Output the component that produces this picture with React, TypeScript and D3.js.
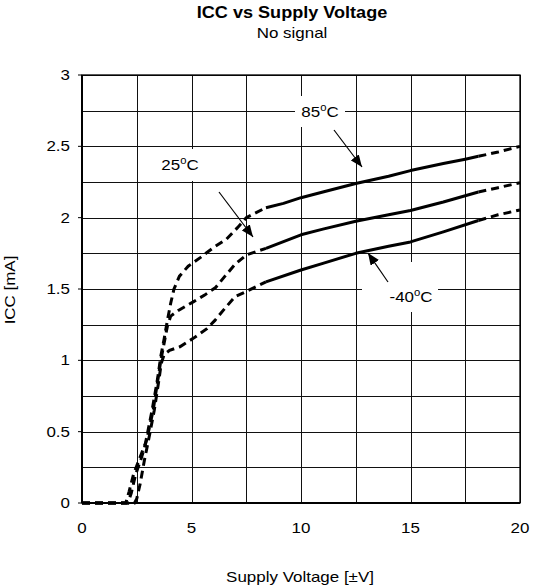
import React from "react";
import * as d3 from "d3";

const xTicks = [0, 5, 10, 15, 20];
const yTicks = [0, 0.5, 1, 1.5, 2, 2.5, 3];
const yTickLabels = ["0", "0.5", "1", "1.5", "2", "2.5", "3"];
const xGrid = [0, 2.5, 5, 7.5, 10, 12.5, 15, 17.5, 20];
const yGrid = [0, 0.25, 0.5, 0.75, 1, 1.25, 1.5, 1.75, 2, 2.25, 2.5, 2.75, 3];

const icc85: [number, number][] = [
  [0, 0], [2.0, 0], [2.15, 0.08], [2.35, 0.2], [2.6, 0.3], [2.9, 0.42], [3.2, 0.65], [3.45, 0.87],
  [3.6, 1.03], [3.75, 1.15], [3.9, 1.28], [4.05, 1.4], [4.2, 1.5], [4.45, 1.59], [4.85, 1.66],
  [5.4, 1.72], [6.0, 1.79], [6.6, 1.85], [7.1, 1.93], [7.5, 2.0], [8.4, 2.07], [9.2, 2.1],
  [10, 2.14], [11, 2.18], [12.5, 2.24], [14, 2.29], [15, 2.33], [16.5, 2.38], [17.5, 2.41],
  [18.1, 2.43], [19, 2.46], [20, 2.5],
];
const icc25: [number, number][] = [
  [0, 0], [2.1, 0], [2.25, 0.07], [2.45, 0.2], [2.7, 0.31], [2.95, 0.44], [3.25, 0.65], [3.45, 0.85],
  [3.6, 1.0], [3.75, 1.12], [3.9, 1.24], [4.05, 1.31], [4.4, 1.35], [5.08, 1.41], [5.62, 1.46],
  [6.1, 1.51], [6.53, 1.59], [7.0, 1.675], [7.52, 1.74], [8.4, 1.785], [10, 1.88], [11, 1.92],
  [12.5, 1.975], [14, 2.02], [15, 2.05], [16.5, 2.11], [18.1, 2.18], [19, 2.21], [20, 2.245],
];
const iccM40: [number, number][] = [
  [0, 0], [2.4, 0], [2.5, 0.03], [2.65, 0.13], [2.85, 0.3], [3.05, 0.45], [3.3, 0.65], [3.5, 0.85],
  [3.62, 0.98], [3.75, 1.04], [4.0, 1.07], [4.47, 1.095], [5.08, 1.154], [5.69, 1.22], [6.07, 1.28],
  [6.53, 1.365], [6.99, 1.446], [7.6, 1.49], [8.4, 1.55], [10, 1.633], [11, 1.68], [12.5, 1.75],
  [14, 1.8], [15, 1.83], [16.5, 1.9], [18.1, 1.98], [19, 2.02], [20, 2.054],
];
const series = [icc85, icc25, iccM40];
const solidFrom = 8.4;
const solidTo = 18.1;

const FONT = "'Liberation Sans', Arial, sans-serif";
const SX = 1.13;

const L = 82, R = 520, T = 75, B = 503;
const x = d3.scaleLinear().domain([0, 20]).range([L, R]);
const y = d3.scaleLinear().domain([0, 3]).range([B, T]);
const line = d3.line<[number, number]>().x(d => x(d[0])).y(d => y(d[1]));

function Txt(props: { x: number; y: number; anchor?: string; size?: number; bold?: boolean; rotate?: number; children: React.ReactNode }) {
  const { x: tx, y: ty, anchor = "middle", size = 15, bold = false, rotate = 0, children } = props;
  return (
    <text
      transform={`translate(${tx},${ty}) rotate(${rotate}) scale(${SX},1)`}
      textAnchor={anchor}
      fontFamily={FONT}
      fontSize={size}
      fontWeight={bold ? "bold" : "normal"}
      fill="#000"
    >
      {children}
    </text>
  );
}

function Deg(props: { x: number; y: number; pre: string; anchor?: string }) {
  return (
    <Txt x={props.x} y={props.y} anchor={props.anchor}>
      {props.pre}
      <tspan fontSize={10} dy={-6}>o</tspan>
      <tspan dy={6}>C</tspan>
    </Txt>
  );
}

export default function App() {
  const arrows = [
    { x1: 334, y1: 130, x2: 362, y2: 167 },
    { x1: 219, y1: 192, x2: 253, y2: 237 },
    { x1: 388, y1: 282, x2: 368, y2: 253 },
  ];
  return (
    <svg width={533} height={585} style={{ position: "absolute", left: 0, top: 0, display: "block" }}>
      <defs>
        <marker id="ah" viewBox="0 0 12 10" refX={12} refY={5} markerWidth={12} markerHeight={10} markerUnits="userSpaceOnUse" orient="auto">
          <path d="M0,0 L12,5 L0,10 z" fill="#000" />
        </marker>
      </defs>
      <rect x={0} y={0} width={533} height={585} fill="#fff" />
      {/* grid */}
      {xGrid.map(v => (
        <line key={"gx" + v} x1={Math.round(x(v)) + 0.5} x2={Math.round(x(v)) + 0.5} y1={T} y2={B} stroke="#111" strokeWidth={1} />
      ))}
      {yGrid.map(v => (
        <line key={"gy" + v} x1={L} x2={R} y1={Math.round(y(v)) + 0.5} y2={Math.round(y(v)) + 0.5} stroke="#111" strokeWidth={1} />
      ))}
      {/* label backgrounds */}
      <rect x={295} y={96} width={50} height={31} fill="#fff" />
      <rect x={155} y={149} width={50} height={32} fill="#fff" />
      <rect x={362} y={262} width={76} height={50} fill="#fff" />
      {/* border */}
      <rect x={L} y={T} width={R - L} height={B - T} fill="none" stroke="#000" strokeWidth={1.3} />
      <line x1={L} x2={L} y1={T} y2={B} stroke="#000" strokeWidth={2} />
      <line x1={L} x2={R} y1={B} y2={B} stroke="#000" strokeWidth={2} />
      {/* ticks */}
      {yTicks.map(v => (
        <line key={"ty" + v} x1={L - 4} x2={L} y1={y(v)} y2={y(v)} stroke="#000" strokeWidth={1} />
      ))}
      {/* curves */}
      {series.map((s, i) => {
        const a = s.filter(d => d[0] <= solidFrom);
        const b = s.filter(d => d[0] >= solidFrom && d[0] <= solidTo);
        const c = s.filter(d => d[0] >= solidTo);
        return (
          <g key={"s" + i} fill="none" stroke="#000" strokeWidth={3}>
            <path d={line(a) || ""} strokeDasharray="8,5" />
            <path d={line(b) || ""} strokeLinejoin="round" />
            <path d={line(c) || ""} strokeDasharray="8,5" />
          </g>
        );
      })}
      {/* arrows */}
      {arrows.map((a, i) => (
        <line key={"a" + i} x1={a.x1} y1={a.y1} x2={a.x2} y2={a.y2} stroke="#000" strokeWidth={1.2} markerEnd="url(#ah)" />
      ))}
      {/* annotation labels */}
      <Deg x={320} y={117} pre="85" />
      <Deg x={180} y={170} pre="25" />
      <Deg x={411} y={302} pre="-40" />
      {/* tick labels */}
      {yTicks.map((v, i) => (
        <Txt key={"yl" + v} x={70} y={y(v) + 5} anchor="end">{yTickLabels[i]}</Txt>
      ))}
      {xTicks.map(v => (
        <Txt key={"xl" + v} x={x(v)} y={533} anchor="middle">{String(v)}</Txt>
      ))}
      {/* axis titles */}
      <Txt x={300} y={582} anchor="middle">Supply Voltage [±V]</Txt>
      <Txt x={15} y={290} anchor="middle" rotate={-90}>ICC [mA]</Txt>
      {/* title */}
      <Txt x={292} y={18} anchor="middle" size={16} bold>ICC vs Supply Voltage</Txt>
      <Txt x={292} y={38} anchor="middle">No signal</Txt>
    </svg>
  );
}
